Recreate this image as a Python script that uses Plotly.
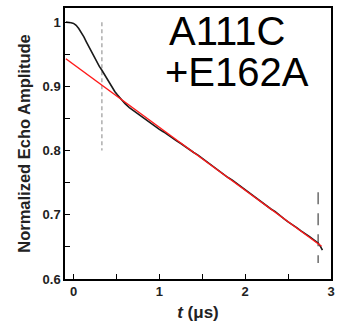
import plotly.graph_objects as go

# ---- data ----
echo_t = [-0.09, -0.06, -0.03, 0.00, 0.03, 0.06, 0.09, 0.12, 0.15, 0.18, 0.21, 0.24,
          0.27, 0.30, 0.33, 0.36, 0.39, 0.42, 0.45, 0.48, 0.51, 0.54, 0.57, 0.60,
          0.65, 0.70, 0.75, 0.80, 0.85, 0.90, 0.95, 1.00, 1.05, 1.10, 1.15, 1.20,
          1.25, 1.30, 1.35, 1.40, 1.45, 1.50, 1.55, 1.60, 1.65, 1.70, 1.75, 1.80,
          1.85, 1.90, 1.95, 2.00, 2.05, 2.10, 2.15, 2.20, 2.25, 2.30, 2.35, 2.40,
          2.45, 2.50, 2.55, 2.60, 2.65, 2.70, 2.75, 2.80, 2.85, 2.88, 2.90]
echo_y = [1.000, 1.000, 0.999, 0.998, 0.995, 0.990, 0.984, 0.977, 0.969, 0.961, 0.953, 0.945,
          0.938, 0.931, 0.925, 0.918, 0.911, 0.904, 0.898, 0.892, 0.887, 0.882, 0.877, 0.873,
          0.867, 0.862, 0.857, 0.852, 0.848, 0.842, 0.838, 0.833, 0.829, 0.824, 0.820, 0.815,
          0.811, 0.806, 0.802, 0.797, 0.793, 0.788, 0.782, 0.777, 0.773, 0.768, 0.763, 0.758,
          0.754, 0.749, 0.743, 0.738, 0.733, 0.729, 0.724, 0.718, 0.714, 0.709, 0.705, 0.699,
          0.694, 0.689, 0.685, 0.680, 0.675, 0.671, 0.666, 0.661, 0.656, 0.650, 0.645]

fit_t = [-0.09, 2.89]
fit_y = [0.943, 0.651]

marker1_t = [0.33, 0.33]
marker1_y = [1.0, 0.8]
marker2_t = [2.85, 2.85]
marker2_y = [0.735, 0.625]

x_tickvals = [0, 1, 2, 3]
x_ticktext = ["0", "1", "2", "3"]
y_tickvals = [0.6, 0.7, 0.8, 0.9, 1.0]
y_ticktext = ["0.6", "0.7", "0.8", "0.9", "1"]

label_line1 = "A111C"
label_line2 = "+E162A"

FONT = "Liberation Sans, Arial, Helvetica, sans-serif"

fig = go.Figure()
fig.add_trace(go.Scatter(x=marker1_t, y=marker1_y, mode="lines",
                         line=dict(color="#9a9a9a", width=1.2, dash="4px,3px"), showlegend=False))
fig.add_trace(go.Scatter(x=marker2_t, y=marker2_y, mode="lines",
                         line=dict(color="#555555", width=1.3, dash="12px,9px"), showlegend=False))
fig.add_trace(go.Scatter(x=echo_t, y=echo_y, mode="lines",
                         line=dict(color="#1a1a1a", width=1.6), showlegend=False))
fig.add_trace(go.Scatter(x=fit_t, y=fit_y, mode="lines",
                         line=dict(color="#ff1a1a", width=1.5), showlegend=False))

fig.add_annotation(x=0.385, y=0.827, xref="paper", yref="paper", text=label_line1,
                   showarrow=False, xanchor="left", yanchor="bottom",
                   font=dict(family=FONT, size=40, color="black"))
fig.add_annotation(x=0.37, y=0.677, xref="paper", yref="paper", text=label_line2,
                   showarrow=False, xanchor="left", yanchor="bottom",
                   font=dict(family=FONT, size=40, color="black"))

axis_common = dict(showline=True, linecolor="black", linewidth=1.5, mirror=True,
                   ticks="inside", ticklen=5, tickwidth=1.2, tickcolor="black",
                   showgrid=False, zeroline=False,
                   tickfont=dict(family=FONT, size=13, color="#222", weight="bold"))

fig.update_xaxes(range=[-0.1, 3.0], tickvals=x_tickvals, ticktext=x_ticktext,
                 minor=dict(ticks="inside", ticklen=5, tickwidth=1.2, tickcolor="black", dtick=0.5, tick0=0),
                 title=dict(text="<b><i>t</i> (μs)</b>", font=dict(family=FONT, size=17, color="#222"), standoff=8),
                 **axis_common)
fig.update_yaxes(range=[0.6, 1.022], tickvals=y_tickvals, ticktext=y_ticktext,
                 minor=dict(ticks="inside", ticklen=5, tickwidth=1.2, tickcolor="black", dtick=0.05, tick0=0.6),
                 title=dict(text="<b>Normalized Echo Amplitude</b>", font=dict(family=FONT, size=16.5, color="#222"), standoff=8),
                 **axis_common)

fig.update_layout(width=339, height=324, margin=dict(l=65, r=4, t=8, b=45),
                  plot_bgcolor="white", paper_bgcolor="white")

fig.write_html("out.html")
